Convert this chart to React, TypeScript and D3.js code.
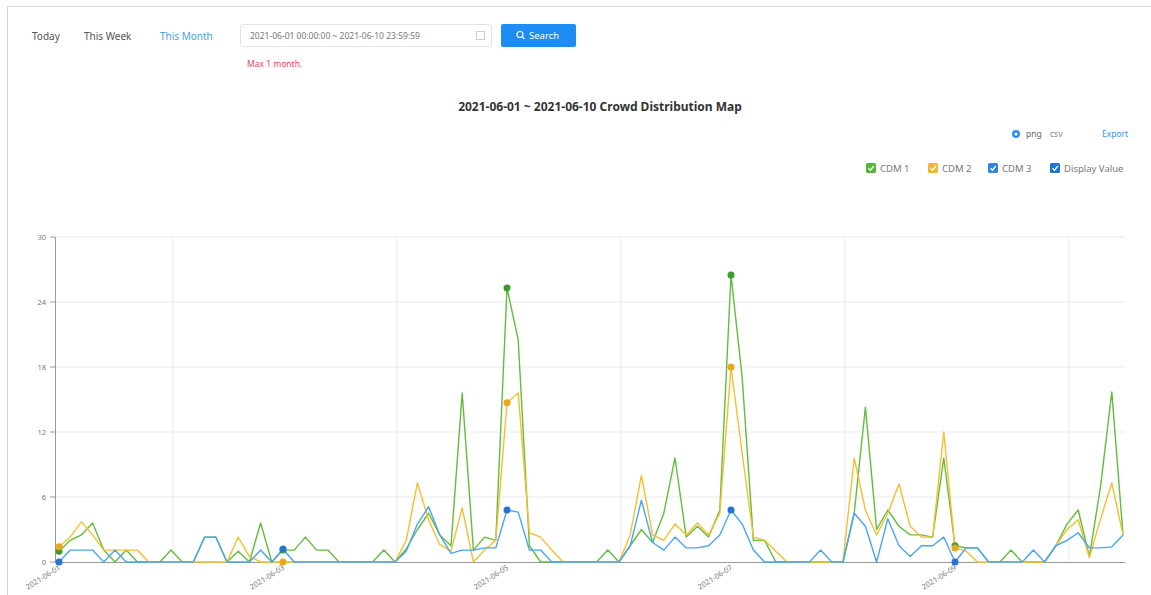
import React from "react";
import * as d3 from "d3";

// ---------- data ----------
const seriesNames = ["CDM 1", "CDM 2", "CDM 3"];
const cdm1: number[] = [
  1, 2, 2.5, 3.6, 1.1, 0, 1.1, 0, 0, 0,
  1.1, 0, 0, 2.3, 2.3, 0, 1, 0, 3.6, 0,
  1.1, 1.1, 2.3, 1.1, 1.1, 0, 0, 0, 0, 1.1,
  0, 1.2, 3, 4.5, 2.5, 1.5, 15.6, 1.1, 2.3, 2.0,
  25.3, 20.5, 1.5, 0, 0, 0, 0, 0, 0, 1.1,
  0, 1.5, 3, 1.8, 4.5, 9.6, 2.3, 3.3, 2.3, 4.8,
  26.5, 17, 2, 2, 0, 0, 0, 0, 0, 0,
  0, 4.5, 14.3, 3, 4.8, 3.3, 2.5, 2.5, 2.3, 9.6,
  1.5, 1.3, 1.3, 0, 0, 1.1, 0, 0, 0, 1.5,
  3.5, 4.8, 0.5, 7, 15.7, 2.5,
];
const cdm2: number[] = [
  1.4, 2.3, 3.7, 2.5, 1.1, 1.1, 1.1, 1.1, 0, 0,
  0, 0, 0, 0, 0, 0, 2.3, 0.5, 0, 0,
  0, 0, 0, 0, 0, 0, 0, 0, 0, 0,
  0, 2, 7.3, 3.9, 1.6, 1, 5, 0, 1.1, 2,
  14.7, 15.6, 2.7, 2.3, 1.1, 0, 0, 0, 0, 0,
  0, 2.5, 8, 2.5, 2, 3.5, 2.5, 3.6, 2.5, 4.5,
  18, 10, 2.3, 2, 1, 0, 0, 0, 0, 0,
  0, 9.6, 4.8, 2.5, 4.5, 7.2, 3.3, 2.3, 2.3, 12,
  1.3, 1, 0, 0, 0, 0, 0, 0, 0, 1.5,
  3, 3.9, 0.4, 4, 7.3, 2.5,
];
const cdm3: number[] = [
  0, 1.1, 1.1, 1.1, 0, 1.1, 0, 0, 0, 0,
  0, 0, 0, 2.3, 2.3, 0, 0, 0, 1.1, 0,
  1.2, 0, 0, 0, 0, 0, 0, 0, 0, 0,
  0, 1, 3.5, 5.1, 2.5, 0.8, 1.1, 1.1, 1.3, 1.3,
  4.8, 4.6, 1.1, 1.1, 0, 0, 0, 0, 0, 0,
  0, 1.5, 5.7, 1.8, 1.1, 2.3, 1.3, 1.3, 1.5, 2.5,
  4.8, 3.5, 1.1, 0, 0, 0, 0, 0, 1.1, 0,
  0, 4.5, 3.3, 0, 4, 1.5, 0.5, 1.5, 1.5, 2.3,
  0, 1.3, 1.3, 0, 0, 0, 0, 1.1, 0, 1.5,
  2, 2.7, 1.3, 1.3, 1.4, 2.5,
];
const xTickLabels = ["2021-06-01", "2021-06-03", "2021-06-05", "2021-06-07", "2021-06-09"];
const labelEvery = 20;
const yTicks = [0, 6, 12, 18, 24, 30];

const lineColors = ["#62bd3e", "#f6bf2f", "#4aa5f2"];
const markerColors = ["#3f9a2e", "#eaa81c", "#2573d6"];
const legendColors = ["#52b63a", "#f5b731", "#2e86e0", "#1f74d4"];
const legendNames = [...seriesNames, "Display Value"];

const W = 1151;
const H = 595;

export default function App() {
  const data = [cdm1, cdm2, cdm3];
  const n = cdm1.length;
  const x = d3.scalePoint<number>().domain(d3.range(n)).range([59, 1123]);
  const y = d3.scaleLinear().domain([0, 30]).range([562, 237]);
  const line = d3
    .line<number>()
    .x((_, i) => x(i) as number)
    .y((v) => y(v));
  const labelIdx = xTickLabels.map((_, k) => k * labelEvery);
  const gridIdx = labelIdx.map((i) => i + labelEvery / 2).filter((i) => i < n);
  const font = "'Noto Sans', 'Open Sans', sans-serif";

  const legendX = [866, 928, 988, 1050];

  return (
    <div style={{ position: "fixed", left: 0, top: 0, width: W, height: H, background: "#fff" }}>
      <svg width={W} height={H} style={{ display: "block", fontFamily: font }}>
        {/* frame */}
        <line x1={7} y1={6.5} x2={W} y2={6.5} stroke="#d6d6d6" />
        <line x1={7.5} y1={6} x2={7.5} y2={H} stroke="#d6d6d6" />

        {/* top bar */}
        <text x={32} y={40} fontSize={10} fill="#555">Today</text>
        <text x={84} y={40} fontSize={10} fill="#555">This Week</text>
        <text x={160} y={40} fontSize={10} fill="#4a9fe8">This Month</text>
        <rect x={240.5} y={24.5} width={251} height={22} rx={2} fill="#fff" stroke="#e3e3e3" />
        <text x={250} y={39} fontSize={8.5} fill="#777">2021-06-01 00:00:00 ~ 2021-06-10 23:59:59</text>
        <rect x={476.5} y={31.5} width={8} height={8} fill="none" stroke="#ccc" />
        <rect x={501} y={24} width={75} height={23} rx={2} fill="#1d8cf3" />
        <circle cx={520} cy={34.5} r={3} fill="none" stroke="#fff" strokeWidth={1.2} />
        <line x1={522.2} y1={36.7} x2={524.5} y2={39} stroke="#fff" strokeWidth={1.2} />
        <text x={529} y={39} fontSize={9.5} fill="#fff">Search</text>
        <text x={247} y={67} fontSize={8.5} fill="#f0435a">Max 1 month.</text>

        {/* title */}
        <text x={600} y={111} textAnchor="middle" fontSize={12} fontWeight="bold" fill="#333">
          2021-06-01 ~ 2021-06-10 Crowd Distribution Map
        </text>

        {/* export */}
        <circle cx={1016} cy={134} r={4} fill="#2d8ff0" />
        <circle cx={1016} cy={134} r={1.5} fill="#fff" />
        <text x={1026} y={137} fontSize={8.5} fill="#666">png</text>
        <text x={1050} y={137} fontSize={8.5} fill="#888">csv</text>
        <text x={1102} y={137} fontSize={8.5} fill="#3c92e6">Export</text>

        {/* legend */}
        {legendNames.map((name, k) => (
          <g key={name} transform={`translate(${legendX[k]},163)`}>
            <rect width={10} height={10} rx={1.5} fill={legendColors[k]} />
            <path d="M2.5,5.2 L4.5,7.2 L7.8,3" fill="none" stroke="#fff" strokeWidth={1.3} />
            <text x={14} y={9} fontSize={9.5} fill="#777">{name}</text>
          </g>
        ))}

        {/* grid */}
        {yTicks.map((t) => (
          <g key={t}>
            {t > 0 && <line x1={55} x2={1125} y1={y(t)} y2={y(t)} stroke="#e9e9e9" />}
            <line x1={50} x2={55} y1={y(t)} y2={y(t)} stroke="#999" />
            <text x={46} y={y(t) + 3} textAnchor="end" fontSize={7.5} fill="#777">{t}</text>
          </g>
        ))}
        {gridIdx.map((i) => (
          <line key={i} x1={(x(i) as number) + 2} x2={(x(i) as number) + 2} y1={237} y2={562} stroke="#e9e9e9" />
        ))}
        <line x1={55.5} x2={55.5} y1={237} y2={562} stroke="#999" />
        <line x1={55} x2={1125} y1={562.5} y2={562.5} stroke="#999" />

        {/* x labels */}
        {labelIdx.map((i, k) => (
          <text
            key={i}
            transform={`translate(${(x(i) as number) + 2},${569}) rotate(-32)`}
            textAnchor="end"
            fontSize={7.5}
            fill="#777"
          >
            {xTickLabels[k]}
          </text>
        ))}

        {/* lines */}
        {data.map((s, k) => (
          <path key={k} d={line(s) || ""} fill="none" stroke={lineColors[k]} strokeWidth={1.4} strokeLinejoin="round" />
        ))}
        {/* display value markers */}
        {data.map((s, k) =>
          labelIdx.map((i) => (
            <circle key={`${k}-${i}`} cx={x(i)} cy={y(s[i])} r={3.5} fill={markerColors[k]} />
          ))
        )}
      </svg>
    </div>
  );
}
